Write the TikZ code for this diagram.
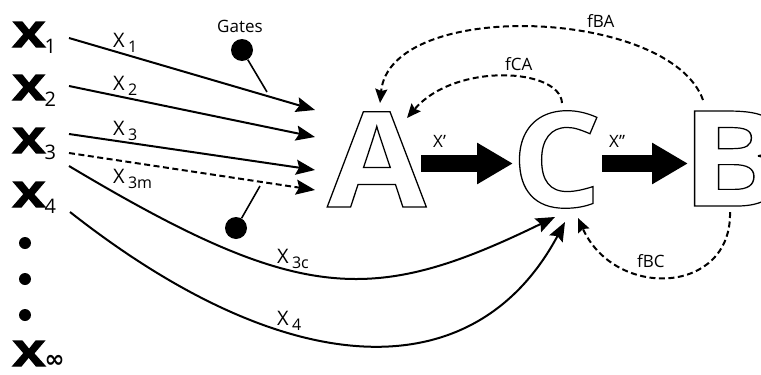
\documentclass[tikz,border=0pt]{standalone}
\usepackage{graphicx}
\usepackage{fontspec}
\setmainfont{Open Sans}
\newfontfamily\symfont{DejaVu Sans}
\usetikzlibrary{arrows.meta}

% stroked (hollow) glyphs via the PDF text render mode
\newcommand{\hollow}[1]{\special{pdf:literal direct 1 Tr 1.2 w}#1\special{pdf:literal direct 0 Tr}}
% heavier solid glyphs
\newcommand{\heavy}[1]{\special{pdf:literal direct 2 Tr 1.4 w}#1\special{pdf:literal direct 0 Tr}}
\newcommand{\wideX}{\scalebox{1.35}[1]{\heavy{X}}}
\newcommand{\bigsub}[1]{\raisebox{-6pt}{\fontsize{20}{20}\selectfont\mdseries #1}}
\newcommand{\labsub}[1]{\,\raisebox{-5pt}{\fontsize{16}{16}\selectfont #1}}

\tikzset{
  src/.style={anchor=base west, inner sep=0pt, font=\fontsize{35}{35}\selectfont\bfseries},
  lab/.style={anchor=base west, inner sep=0pt, font=\fontsize{20}{20}\selectfont},
  fblab/.style={anchor=base west, inner sep=0pt, font=\fontsize{17}{17}\selectfont},
  letter/.style={anchor=base west, inner sep=0pt, font=\fontsize{133}{133}\selectfont\bfseries},
  dot/.style={circle, fill, inner sep=0pt, minimum size=12pt},
  gate/.style={circle, fill, inner sep=0pt, minimum size=22pt},
  input/.style={line width=2pt, -{Stealth[length=19pt,width=15pt,inset=3pt]}},
  dinput/.style={input, dash pattern=on 6pt off 3.5pt},
  feed/.style={line width=2pt, dash pattern=on 6pt off 3.5pt, -{Stealth[length=14pt,width=12pt,inset=2pt]}},
  block/.style={line width=17pt, -{Triangle[length=36pt,width=39pt]}},
  stem/.style={line width=1.6pt}
}

\begin{document}
\begin{tikzpicture}[x=1pt,y=-1pt]
\useasboundingbox (0,0) rectangle (761,375);

% input signals on the left
\node[src] (x1) at (13,47) {\wideX\bigsub{1}};
\node[src] (x2) at (13,100) {\wideX\bigsub{2}};
\node[src] (x3) at (13,153) {\wideX\bigsub{3}};
\node[src] (x4) at (13,207) {\wideX\bigsub{4}};
\node[dot] (d1) at (25,243) {};
\node[dot] (d2) at (25,279) {};
\node[dot] (d3) at (25,315) {};
\node[src] (xinf) at (13,366) {\wideX\raisebox{-1pt}{\symfont\fontsize{24}{24}\selectfont ∞}};

% the three stages
\node[letter] (A) at (327,207) {\scalebox{1.08}[1]{\hollow{A}}};
\node[letter] (C) at (511,207) {\scalebox{1.07}[1]{\hollow{C}}};
\node[letter] (B) at (680,206) {\scalebox{1.2}[1]{\hollow{B}}};

% connector end points
\coordinate (s1) at (69,38);   \coordinate (e1) at (315,110);
\coordinate (s2) at (69,86);   \coordinate (e2) at (315,137);
\coordinate (s3) at (69,134);  \coordinate (e3) at (315,170);
\coordinate (s3m) at (69,153); \coordinate (e3m) at (315,190);
\coordinate (s3c) at (69,166); \coordinate (e3c) at (555,217);
\coordinate (s4) at (70,212);  \coordinate (e4) at (565,222);

\draw[input] (s1) -- (e1);
\draw[input] (s2) -- (e2);
\draw[input] (s3) -- (e3);
\draw[dinput] (s3m) -- (e3m);
\draw[input] (s3c) .. controls (300,304) and (372,306) .. (e3c);
\draw[input] (s4) .. controls (290,385) and (475,390) .. (e4);

% input labels
\node[lab] (l1) at (113,47) {X\labsub{1}};
\node[lab] (l2) at (113,90) {X\labsub{2}};
\node[lab] (l3) at (113,135) {X\labsub{3}};
\node[lab] (l3m) at (113,183) {X\labsub{3m}};
\node[lab] (l3c) at (277,263) {X\labsub{3c}};
\node[lab] (l4) at (277,325) {X\labsub{4}};

% gates
\node[fblab] (gt) at (217,32) {Gates};
\node[gate] (g1) at (242,50) {};
\coordinate (g1e) at (267,92);
\draw[stem] (g1) -- (g1e);
\node[gate] (g2) at (236,228) {};
\coordinate (g2e) at (260,186);
\draw[stem] (g2) -- (g2e);

% forward flow
\coordinate (ax) at (421,163.5); \coordinate (cx) at (513,163.5);
\coordinate (cy) at (602,163.5); \coordinate (by) at (688,163.5);
\draw[block] (ax) -- (cx);
\draw[block] (cy) -- (by);
\node[fblab] (xp) at (433,147) {X\symbol{39}};
\node[fblab] (xpp) at (609,147) {X\symbol{34}};

% feedback loops
\coordinate (ca0) at (562,103); \coordinate (ca1) at (407,118);
\coordinate (ba0) at (703,100); \coordinate (ba1) at (380,103);
\coordinate (bc0) at (730,212); \coordinate (bc1) at (578,218);
\draw[feed] (ca0) .. controls (560,68) and (455,62) .. (ca1);
\draw[feed] (ba0) .. controls (670,8) and (390,-2) .. (ba1);
\draw[feed] (bc0) .. controls (732,295) and (615,300) .. (bc1);
\node[fblab] (fca) at (505,70) {fCA};
\node[fblab] (fba) at (587,27) {fBA};
\node[fblab] (fbc) at (637,267) {fBC};
\end{tikzpicture}
\end{document}
